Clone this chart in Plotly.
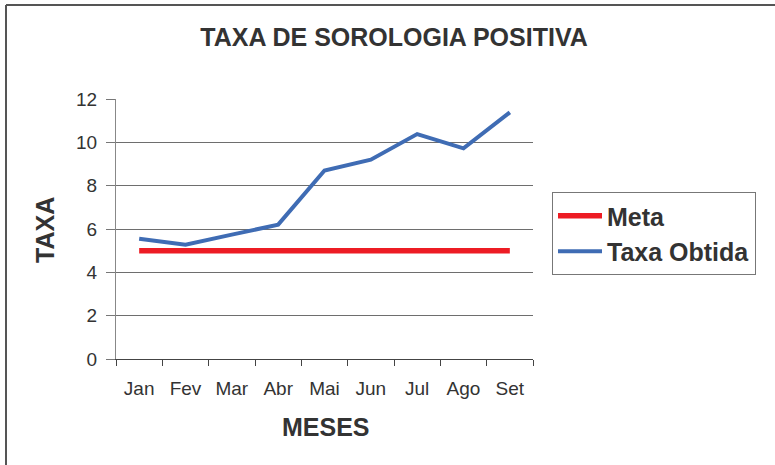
import plotly.graph_objects as go

months = ["Jan", "Fev", "Mar", "Abr", "Mai", "Jun", "Jul", "Ago", "Set"]
meta = [5, 5, 5, 5, 5, 5, 5, 5, 5]
taxa_obtida = [5.55, 5.27, 5.74, 6.2, 8.7, 9.2, 10.38, 9.72, 11.38]
y_ticks = [0, 2, 4, 6, 8, 10, 12]
grid_vals = [2, 4, 6, 8, 10]

W, H = 775, 465
# plot area in screenshot pixels: x 116..533, y 99..359
L, T = 116, 99
R, B = W - 533, H - 359
pw, ph = W - L - R, H - T - B

def px_x(p):
    return (p - L) / pw

def px_y(p):
    return (H - B - p) / ph

TXT = "#333333"
FONT = "Liberation Sans, Arial, sans-serif"

fig = go.Figure()
fig.add_trace(go.Scatter(x=months, y=meta, name="<b>Meta</b>", mode="lines",
                         line=dict(color="#ED1C24", width=5.5)))
fig.add_trace(go.Scatter(x=months, y=taxa_obtida, name="<b>Taxa Obtida</b>", mode="lines",
                         line=dict(color="#3F6CB4", width=4)))
# helper overlay axis for gridlines only
fig.add_trace(go.Scatter(x=months, y=meta, yaxis="y2", mode="lines",
                         line=dict(width=0), showlegend=False, hoverinfo="skip"))

fig.update_layout(
    width=W, height=H,
    margin=dict(l=L, r=R, t=T, b=B),
    paper_bgcolor="white", plot_bgcolor="white",
    font=dict(family=FONT, color=TXT, size=19),
    title=dict(text="<b>TAXA DE SOROLOGIA POSITIVA</b>", x=394 / W, xanchor="center",
               y=1 - 37 / H, yanchor="middle", yref="container",
               font=dict(size=25, color=TXT, family=FONT)),
    xaxis=dict(type="category", range=[-0.5, 8.5], showgrid=False, zeroline=False,
               showline=True, linecolor="#444444", linewidth=1,
               ticks="outside", ticklen=6, tickcolor="#444444", tickson="boundaries",
               tickfont=dict(size=19, color=TXT), ticklabelstandoff=12),
    yaxis=dict(range=[0, 12], tickvals=y_ticks, showgrid=False, zeroline=False,
               showline=True, linecolor="#888888", linewidth=1,
               ticks="outside", ticklen=9, tickcolor="#777777",
               tickfont=dict(size=19, color=TXT), ticklabelstandoff=5),
    yaxis2=dict(range=[0, 12], overlaying="y", tickvals=grid_vals, showgrid=True,
                gridcolor="#6e6e6e", gridwidth=1, showticklabels=False, ticks="",
                zeroline=False, showline=False),
    legend=dict(x=px_x(552), xanchor="left", y=px_y(192), yanchor="top",
                bordercolor="#777777", borderwidth=1, bgcolor="white",
                font=dict(size=25, color=TXT, family=FONT), itemwidth=44,
                tracegroupgap=0),
    showlegend=True,
    annotations=[
        dict(text="<b>MESES</b>", x=px_x(326), y=px_y(427), xref="paper", yref="paper",
             showarrow=False, xanchor="center", yanchor="middle",
             font=dict(size=25, color=TXT, family=FONT)),
        dict(text="<b>TAXA</b>", x=px_x(45), y=px_y(230), xref="paper", yref="paper",
             showarrow=False, xanchor="center", yanchor="middle", textangle=-90,
             font=dict(size=25, color=TXT, family=FONT)),
    ],
    shapes=[
        dict(type="line", xref="paper", yref="paper", x0=px_x(6), x1=px_x(780),
             y0=px_y(5), y1=px_y(5), line=dict(color="#555555", width=2)),
        dict(type="line", xref="paper", yref="paper", x0=px_x(6), x1=px_x(6),
             y0=px_y(5), y1=px_y(470), line=dict(color="#555555", width=2)),
    ],
)

fig.write_html("out.html",
               config={"displayModeBar": False},
               post_script="document.body.style.margin='0';document.body.style.overflow='hidden';")
